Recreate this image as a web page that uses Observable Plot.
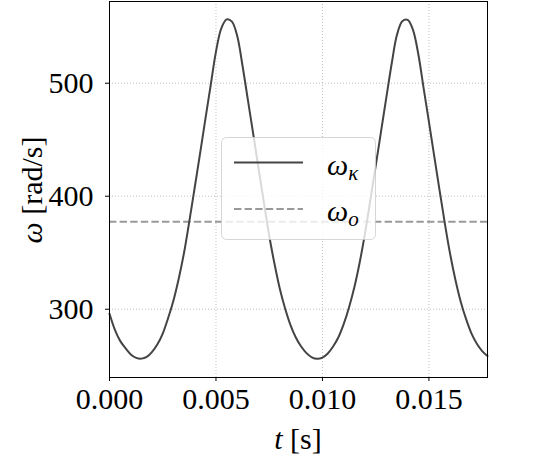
<!DOCTYPE html>
<html>
<head>
<meta charset="utf-8">
<script src="https://cdn.jsdelivr.net/npm/d3@7"></script>
<script src="https://cdn.jsdelivr.net/npm/@observablehq/plot@0.6"></script>
<style>
  html, body { margin: 0; padding: 0; background: white; }
</style>
</head>
<body>
<div id="chart"></div>
<script>
// time samples (s)
const tSec = [
  0.00000, 0.00025, 0.00050, 0.00075, 0.00100, 0.00125, 0.00150, 0.00175,
  0.00200, 0.00225, 0.00250, 0.00275, 0.00300, 0.00325, 0.00350, 0.00375,
  0.00400, 0.00425, 0.00450, 0.00475, 0.00500, 0.00525, 0.00550, 0.00575,
  0.00600, 0.00625, 0.00650, 0.00675, 0.00700, 0.00725, 0.00750, 0.00775,
  0.00800, 0.00825, 0.00850, 0.00875, 0.00900, 0.00925, 0.00950, 0.00975,
  0.01000, 0.01025, 0.01050, 0.01075, 0.01100, 0.01125, 0.01150, 0.01175,
  0.01200, 0.01225, 0.01250, 0.01275, 0.01300, 0.01325, 0.01350, 0.01375,
  0.01400, 0.01425, 0.01450, 0.01475, 0.01500, 0.01525, 0.01550, 0.01575,
  0.01600, 0.01625, 0.01650, 0.01675, 0.01700, 0.01725, 0.01750, 0.01775
];
// omega_kappa (rad/s)
const omegaK = [
  296.0, 282.0, 272.0, 265.5, 260.0, 257.0, 256.3, 257.8,
  262.3, 269.0, 278.5, 292.0, 307.5, 327.0, 350.0, 378.0,
  407.5, 437.5, 468.0, 498.0, 528.0, 548.5, 556.5, 554.5,
  541.5, 515.0, 485.0, 455.0, 424.5, 394.5, 365.0, 340.0,
  318.0, 300.5, 286.0, 275.0, 267.0, 261.2, 257.5, 256.2,
  257.2, 260.8, 267.0, 275.2, 287.0, 301.8, 319.6, 341.6,
  367.4, 396.8, 426.8, 457.2, 487.4, 517.2, 542.8, 554.8,
  556.0, 547.2, 525.8, 495.6, 465.8, 435.2, 405.2, 375.6,
  348.4, 325.4, 306.2, 291.0, 278.4, 269.5, 263.0, 258.6
];
// omega_o (rad/s)
const omegaO = [377.5];

const xTicks = [0, 0.005, 0.010, 0.015];
const yTicks = [300, 400, 500];
const xDomain = [0, 0.01775];
const yDomain = [239.6, 572.3];

const data = tSec.map((t, i) => ({t, w: omegaK[i]}));

const fontFam = "Liberation Serif";

const svg = Plot.plot({
  width: 542,
  height: 456,
  marginLeft: 109,
  marginRight: 55,
  marginTop: 1,
  marginBottom: 79,
  style: {fontFamily: fontFam, background: "white", color: "black"},
  x: {domain: xDomain},
  y: {domain: yDomain},
  marks: [
    Plot.gridX(xTicks, {stroke: "#b0b0b0", strokeOpacity: 1, strokeWidth: 0.8, strokeDasharray: "1,2"}),
    Plot.gridY(yTicks, {stroke: "#b0b0b0", strokeOpacity: 1, strokeWidth: 0.8, strokeDasharray: "1,2"}),
    Plot.ruleY(omegaO, {stroke: "#999999", strokeWidth: 2, strokeDasharray: "7.4,3.2"}),
    Plot.line(data, {x: "t", y: "w", stroke: "#444444", strokeWidth: 2, curve: "catmull-rom"}),
    Plot.frame({stroke: "black", strokeWidth: 1}),
    Plot.axisX({ticks: xTicks, tickSize: 4, tickPadding: 6, tickFormat: d3.format(".3f"), fontSize: 30, label: null}),
    Plot.axisY({ticks: yTicks, tickSize: 4, tickPadding: 12, tickFormat: d3.format("d"), fontSize: 30, label: null})
  ]
});

const s = d3.select(svg);

// axis labels
const xl = s.append("text")
  .attr("x", 298).attr("y", 449)
  .attr("text-anchor", "middle")
  .attr("font-size", 30)
  .attr("font-family", fontFam)
  .attr("fill", "black");
xl.append("tspan").attr("font-style", "italic").text("t");
xl.append("tspan").text(" [s]");

const yl = s.append("text")
  .attr("transform", "translate(42,190) rotate(-90)")
  .attr("text-anchor", "middle")
  .attr("font-size", 30)
  .attr("font-family", fontFam)
  .attr("fill", "black");
yl.append("tspan").attr("font-style", "italic").text("ω");
yl.append("tspan").text(" [rad/s]");

// legend
const lg = s.append("g");
lg.append("rect")
  .attr("x", 221.5).attr("y", 137.5).attr("width", 154).attr("height", 102)
  .attr("rx", 5).attr("ry", 5)
  .attr("fill", "white").attr("fill-opacity", 0.8)
  .attr("stroke", "#cccccc").attr("stroke-opacity", 0.8).attr("stroke-width", 1);
lg.append("line")
  .attr("x1", 234).attr("x2", 303).attr("y1", 162.5).attr("y2", 162.5)
  .attr("stroke", "#444444").attr("stroke-width", 2);
lg.append("line")
  .attr("x1", 234).attr("x2", 303).attr("y1", 209).attr("y2", 209)
  .attr("stroke", "#999999").attr("stroke-width", 2).attr("stroke-dasharray", "7.4,3.2");

function legendText(x, y, sub) {
  const t = lg.append("text")
    .attr("x", x).attr("y", y)
    .attr("text-anchor", "start")
    .attr("font-size", 30)
    .attr("font-family", fontFam)
    .attr("font-style", "italic")
    .attr("fill", "black");
  t.append("tspan").text("ω");
  t.append("tspan").attr("font-size", 21).attr("dy", 5).text(sub);
}
legendText(327, 175, "κ");
legendText(327, 221, "o");

document.getElementById("chart").appendChild(svg);
</script>
</body>
</html>
